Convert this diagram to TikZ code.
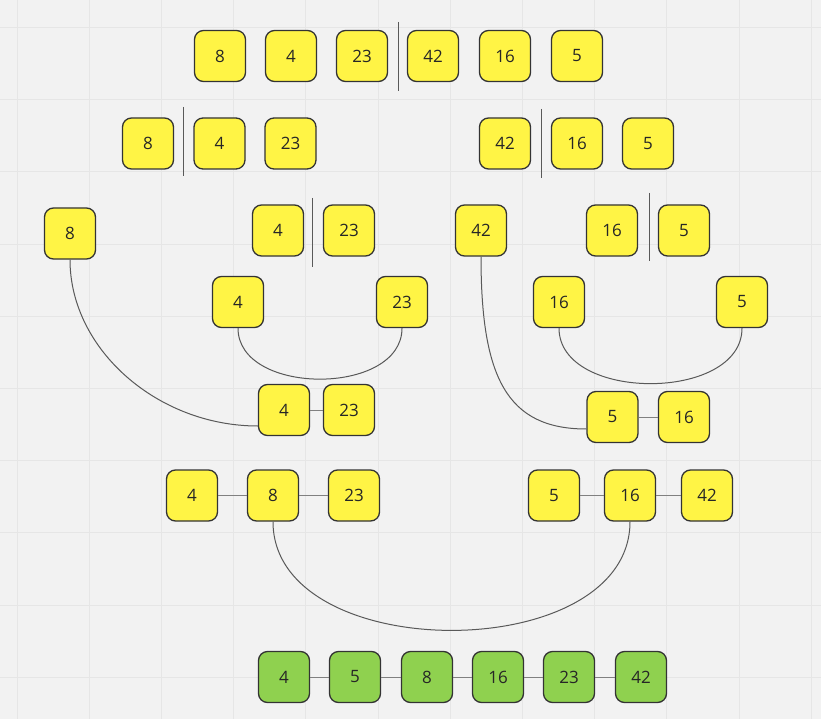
\documentclass[tikz,border=0pt]{standalone}
\usepackage{fontspec}
\setmainfont{Open Sans}
\usepackage{xcolor}
\definecolor{StickyYellow}{HTML}{FFF445}
\definecolor{SortedGreen}{HTML}{8FD14F}
\definecolor{BoardGray}{HTML}{F2F2F2}
\definecolor{GridGray}{HTML}{E6E6E6}
\definecolor{EdgeDark}{HTML}{333333}
\usepackage{tikz}
\usetikzlibrary{calc,positioning}

\tikzset{
  numbox/.style={draw=EdgeDark, line width=1.3pt, fill=StickyYellow, rounded corners=9pt,
    minimum size=51pt, inner sep=0pt, text=black!85, font=\fontsize{17}{20}\selectfont},
  sortedbox/.style={numbox, fill=SortedGreen},
  splitline/.style={draw=black!65, line width=1pt},
  joinline/.style={draw=black!50, line width=1pt},
  mergecurve/.style={draw=black!65, line width=1pt}
}

\begin{document}
\begin{tikzpicture}[x=1pt,y=1pt]
        % board and grid
        \fill[BoardGray] (0,0) rectangle (821,-719);
        \useasboundingbox (0,0) rectangle (821,-719);
        \foreach \k in {0,...,11} {
            \draw[GridGray, line width=1pt] (17+72.2*\k,0) -- (17+72.2*\k,-719);
        }
        \foreach \k in {0,...,9} {
            \draw[GridGray, line width=1pt] (0,-27.5-72.2*\k) -- (821,-27.5-72.2*\k);
        }

        % row 1
        \foreach \x/\v [count=\i] in {220/8, 291/4, 362/23, 433/42, 505/16, 577/5} {
            \node[numbox] (top\i) at (\x,-56) {\v};
        }
        \draw[splitline] (398.7,-22) -- (398.7,-91);

        % row 2
        \foreach \x/\v [count=\i] in {148/8, 219.5/4, 290.5/23, 505/42, 577/16, 648/5} {
            \node[numbox] (half\i) at (\x,-143.5) {\v};
        }
        \draw[splitline] (183,-107) -- (183,-176);
        \draw[splitline] (541,-109) -- (541,-178);

        % row 3
        \node[numbox] (qa8) at (70,-233.5) {8};
        \node[numbox] (qa4) at (278,-230.5) {4};
        \node[numbox] (qa23) at (349,-230.5) {23};
        \node[numbox] (qb42) at (481,-230.5) {42};
        \node[numbox] (qb16) at (612,-230.5) {16};
        \node[numbox] (qb5) at (684,-230.5) {5};
        \draw[splitline] (312,-198) -- (312,-267);
        \draw[splitline] (649.5,-193) -- (649.5,-261);

        % row 4
        \node[numbox] (sa4) at (238,-302) {4};
        \node[numbox] (sa23) at (402,-302) {23};
        \node[numbox] (sb16) at (559,-302) {16};
        \node[numbox] (sb5) at (742,-302) {5};
        \draw[mergecurve] (sa4.south) .. controls +(0,-68) and +(0,-68) .. (sa23.south);
        \draw[mergecurve] (sb16.south) .. controls +(0,-74) and +(0,-74) .. (sb5.south);

        % row 5
        \node[numbox] (ma4) at (284,-410) {4};
        \node[numbox] (ma23) at (349,-410) {23};
        \node[numbox] (mb5) at (612.5,-417) {5};
        \node[numbox] (mb16) at (684,-417) {16};
        \draw[joinline] (ma4) -- (ma23);
        \draw[joinline] (mb5) -- (mb16);
        \draw[mergecurve] (qa8.south) .. controls +(0,-90) and +(-100,0) .. ([yshift=-16pt]ma4.west);
        \draw[mergecurve] (qb42.south) .. controls +(0,-120) and +(-80,0) .. ([yshift=-12pt]mb5.west);

        % row 6
        \foreach \x/\v [count=\i] in {192/4, 273/8, 354/23, 554/5, 630/16, 707/42} {
            \node[numbox] (left\i) at (\x,-495.5) {\v};
        }
        \draw[joinline] (left1) -- (left2);
        \draw[joinline] (left2) -- (left3);
        \draw[joinline] (left4) -- (left5);
        \draw[joinline] (left5) -- (left6);
        \draw[mergecurve] (left2.south) .. controls +(0,-145) and +(0,-145) .. (left5.south);

        % sorted row
        \foreach \x/\v [count=\i] in {284/4, 355/5, 427/8, 498/16, 569/23, 641/42} {
            \node[sortedbox] (done\i) at (\x,-677) {\v};
        }
        \foreach \i [evaluate=\i as \j using int(\i+1)] in {1,...,5} {
            \draw[joinline] (done\i) -- (done\j);
        }
    \end{tikzpicture}
\end{document}
